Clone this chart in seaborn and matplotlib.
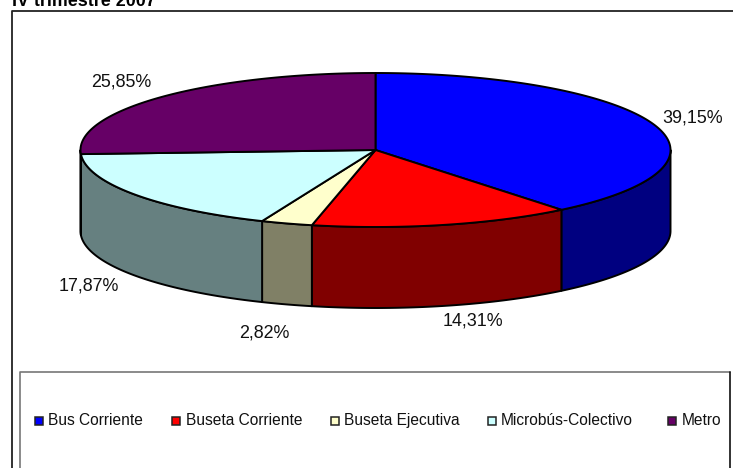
import numpy as np
import seaborn as sns
import matplotlib.pyplot as plt
from matplotlib.patches import Rectangle

sns.set_style('white')
plt.rcParams['font.family'] = ['Liberation Sans', 'DejaVu Sans']

# Data
categories = ['Bus Corriente', 'Buseta Corriente', 'Buseta Ejecutiva', 'Microbús-Colectivo', 'Metro']
shares = [39.15, 14.31, 2.82, 17.87, 25.85]
value_labels = ['39,15%', '14,31%', '2,82%', '17,87%', '25,85%']
title = 'IV trimestre 2007'

top_colors = sns.color_palette(['#0000FF', '#FF0000', '#FFFFCC', '#CCFFFF', '#660066'])
side_colors = sns.color_palette(['#000080', '#800000', '#808066', '#668080', '#330033'])

# Layout in pixels
cx, cy = 375.5, 150
rx, ry = 295, 77
depth = 81
label_pos = [(693, 118), (473, 321), (264, 333), (89, 286), (121, 82)]
legend_x = [39, 176, 335, 491.5, 672]
legend_y = 420.5


def rim(a, b):
    # points on the top ellipse, angle in degrees clockwise from 12 o'clock
    t = np.radians(np.linspace(a, b, max(int(b - a) * 2, 2)))
    return cx + rx * np.sin(t), cy - ry * np.cos(t)


fig = plt.figure(figsize=(7.33, 4.68), dpi=100)
ax = fig.add_axes([0, 0, 1, 1])
ax.set_xlim(0, 733)
ax.set_ylim(468, 0)
ax.axis('off')

# Chart and legend frames, both run off the picture
ax.plot([11.5, 11.5, 740], [480, 10.5, 10.5], color='#222222', lw=1.3)
ax.plot([19.5, 19.5, 729.5], [480, 372, 372], color='#777777', lw=1.2)
ax.plot([729.5, 729.5], [372, 480], color='#111111', lw=1.2)

edges = np.concatenate([[0], np.cumsum(shares)]) * 360 / sum(shares)

# Walls first, only the front half shows
for i in range(len(shares)):
    a, b = max(edges[i], 90), min(edges[i + 1], 270)
    if b > a:
        x, y = rim(a, b)
        ax.fill(np.r_[x, x[::-1]], np.r_[y, y[::-1] + depth],
                facecolor=side_colors[i], edgecolor='black', lw=1.4, joinstyle='round')

# Top slices
for i in range(len(shares)):
    x, y = rim(edges[i], edges[i + 1])
    ax.fill(np.r_[cx, x], np.r_[cy, y],
            facecolor=top_colors[i], edgecolor='black', lw=1.4, joinstyle='round')

for text, (px, py) in zip(value_labels, label_pos):
    ax.text(px, py, text, ha='center', va='center', fontsize=12.9, color='#111111')

ax.text(11.5, 6, title, ha='left', va='baseline', fontsize=12.9, fontweight='bold', color='black')

# Legend keys and names
for i, name in enumerate(categories):
    ax.add_patch(Rectangle((legend_x[i] - 4, legend_y - 4), 8, 8, facecolor=top_colors[i],
                           edgecolor='#222222', lw=1.1))
    ax.text(legend_x[i] + 9.5, legend_y, name, ha='left', va='center', fontsize=11.2, color='#111111')

plt.savefig('out.png', dpi=100)
